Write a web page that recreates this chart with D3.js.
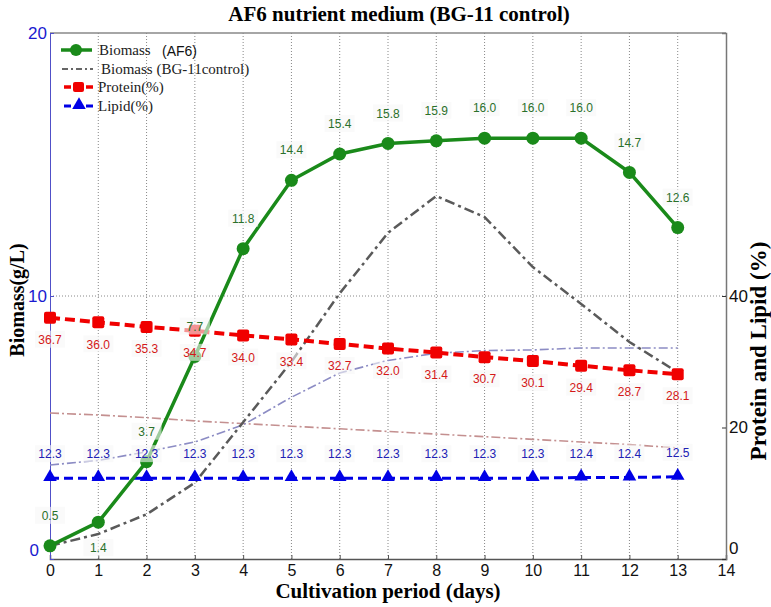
<!DOCTYPE html>
<html>
<head>
<meta charset="utf-8">
<script src="https://cdn.jsdelivr.net/npm/d3@7"></script>
<style>
  body { margin: 0; background: #fff; }
</style>
</head>
<body>
<div id="chart"></div>
<script>
// data
const days = [0, 1, 2, 3, 4, 5, 6, 7, 8, 9, 10, 11, 12, 13];
const biomassAF6 = [0.5, 1.4, 3.7, 7.7, 11.8, 14.4, 15.4, 15.8, 15.9, 16.0, 16.0, 16.0, 14.7, 12.6];
const biomassBG11 = [0.5, 0.95, 1.7, 2.9, 5.2, 7.5, 10.1, 12.4, 13.8, 13.0, 11.1, 9.7, 8.25, 7.1];
const protein = [36.7, 36.0, 35.3, 34.7, 34.0, 33.4, 32.7, 32.0, 31.4, 30.7, 30.1, 29.4, 28.7, 28.1];
const lipid = [12.3, 12.3, 12.3, 12.3, 12.3, 12.3, 12.3, 12.3, 12.3, 12.3, 12.3, 12.4, 12.4, 12.5];
// unlabeled control curves (right axis)
const ctrlA = [14.3, 15.0, 16.3, 17.8, 20.4, 24.6, 28.3, 30.2, 31.3, 31.7, 31.8, 32.1, 32.1, 32.1];
const ctrlB = [22.2, 21.9, 21.5, 21.0, 20.6, 20.2, 19.8, 19.4, 19.0, 18.6, 18.2, 17.8, 17.4, 16.9];
const xTicks = [0, 1, 2, 3, 4, 5, 6, 7, 8, 9, 10, 11, 12, 13, 14];
const leftTicks = [0, 10, 20];
const rightTicks = [0, 20, 40];

const W = 771, H = 607;
const margin = { top: 33, right: 45, bottom: 48, left: 50 };
const width = W - margin.left - margin.right;
const height = H - margin.top - margin.bottom;

const svg = d3.select("#chart").append("svg")
    .attr("width", W).attr("height", H);
const g = svg.append("g")
    .attr("transform", `translate(${margin.left},${margin.top})`);

const x = d3.scaleLinear().domain([0, 14]).range([0, width]);
const yL = d3.scaleLinear().domain([0, 20]).range([height, 0]);
const yR = d3.scaleLinear().domain([0, 80]).range([height, 0]);

// grid
g.append("g").selectAll("line")
    .data(xTicks.slice(1, -1))
    .enter().append("line")
    .attr("x1", d => x(d)).attr("x2", d => x(d))
    .attr("y1", 0).attr("y2", height)
    .attr("stroke", "#888").attr("stroke-width", 1)
    .attr("stroke-dasharray", "1,2");
g.append("line")
    .attr("x1", 0).attr("x2", width)
    .attr("y1", yL(10)).attr("y2", yL(10))
    .attr("stroke", "#888").attr("stroke-width", 1)
    .attr("stroke-dasharray", "1,2");

// box (top + right)
g.append("line").attr("x1", 0).attr("x2", width).attr("y1", 0).attr("y2", 0)
    .attr("stroke", "#888").attr("stroke-width", 1.5);

// axes
const xAxis = g.append("g")
    .attr("transform", `translate(0,${height})`)
    .call(d3.axisBottom(x).tickValues(xTicks).tickSize(-4).tickFormat(d3.format("d")).tickPadding(6));
xAxis.select(".domain").attr("stroke", "#555").attr("stroke-width", 1.5);
xAxis.selectAll(".tick line").attr("stroke", "#555");
xAxis.selectAll("text").attr("font-family", "Liberation Sans, Arial").attr("font-size", 16).attr("fill", "#111");

const lAxis = g.append("g")
    .call(d3.axisLeft(yL).tickValues(leftTicks).tickSize(-4).tickPadding(3));
lAxis.select(".domain").attr("stroke", "#5050c8").attr("stroke-width", 1);
lAxis.selectAll(".tick line").attr("stroke", "#5050c8");
lAxis.selectAll("text").attr("font-family", "Liberation Sans, Arial").attr("font-size", 17).attr("fill", "#1a1ad0");
lAxis.selectAll(".tick").filter(d => d === 0).select("text").attr("dy", "-0.2em").attr("dx", -8);

const rAxis = g.append("g")
    .attr("transform", `translate(${width},0)`)
    .call(d3.axisRight(yR).tickValues(rightTicks).tickSize(-4).tickPadding(3));
rAxis.select(".domain").attr("stroke", "#777").attr("stroke-width", 1.5);
rAxis.selectAll(".tick line").attr("stroke", "#333");
rAxis.selectAll("text").attr("font-family", "Liberation Sans, Arial").attr("font-size", 17).attr("fill", "#111");
rAxis.selectAll(".tick").filter(d => d === 0).select("text").attr("dy", "-0.3em");

// lines
const lineL = d3.line().x((d, i) => x(days[i])).y(d => yL(d));
const lineR = d3.line().x((d, i) => x(days[i])).y(d => yR(d));

g.append("path").datum(ctrlB).attr("d", lineR).attr("fill", "none")
    .attr("stroke", "#c49090").attr("stroke-width", 1.6).attr("stroke-dasharray", "9,3,2,3");
g.append("path").datum(ctrlA).attr("d", lineR).attr("fill", "none")
    .attr("stroke", "#8c8cc4").attr("stroke-width", 1.6).attr("stroke-dasharray", "9,3,2,3");
g.append("path").datum(biomassBG11).attr("d", lineL).attr("fill", "none")
    .attr("stroke", "#5a5a5a").attr("stroke-width", 2.5).attr("stroke-dasharray", "10,4,3,4");

g.append("path").datum(lipid).attr("d", lineR).attr("fill", "none")
    .attr("stroke", "#0000e6").attr("stroke-width", 3).attr("stroke-dasharray", "9,5");
g.append("path").datum(protein).attr("d", lineR).attr("fill", "none")
    .attr("stroke", "#f00000").attr("stroke-width", 4).attr("stroke-dasharray", "10,5");
g.append("path").datum(biomassAF6).attr("d", lineL).attr("fill", "none")
    .attr("stroke", "#1a8a1a").attr("stroke-width", 3.5);

// markers
const tri = d3.symbol().type(d3.symbolTriangle).size(80);
g.append("g").selectAll("path").data(lipid).enter().append("path")
    .attr("d", tri)
    .attr("transform", (d, i) => `translate(${x(days[i])},${yR(d) - 1})`)
    .attr("fill", "#0000e6");
g.append("g").selectAll("rect").data(protein).enter().append("rect")
    .attr("x", (d, i) => x(days[i]) - 6).attr("y", d => yR(d) - 6)
    .attr("width", 12).attr("height", 12).attr("rx", 2)
    .attr("fill", "#f00000");
g.append("g").selectAll("circle").data(biomassAF6).enter().append("circle")
    .attr("cx", (d, i) => x(days[i])).attr("cy", d => yL(d))
    .attr("r", 6.5).attr("fill", "#1a8a1a");

// value labels
function addLabels(data, yScale, dyFn, color) {
    const lg = g.append("g");
    data.forEach((d, i) => {
        const cx = x(days[i]);
        const cy = yScale(d) + dyFn(i);
        lg.append("rect")
            .attr("x", cx - 15).attr("y", cy - 9)
            .attr("width", 30).attr("height", 17)
            .attr("fill", "#f6f6f6").attr("opacity", 0.6);
        lg.append("text")
            .attr("x", cx).attr("y", cy)
            .attr("dy", "0.35em")
            .attr("text-anchor", "middle")
            .attr("font-family", "Liberation Sans, Arial")
            .attr("font-size", 12)
            .attr("fill", color)
            .text(d.toFixed(1));
    });
}
addLabels(protein, yR, () => 22, "#d41818");
addLabels(lipid, yR, () => -24, "#2020b4");
addLabels(biomassAF6, yL, i => (i === 1 ? 26 : -30), "#2a702a");

// legend
const legend = g.append("g").attr("transform", "translate(0,0)");
const legY = [17, 36, 54, 73];
legend.append("line").attr("x1", 11).attr("x2", 42).attr("y1", legY[0]).attr("y2", legY[0])
    .attr("stroke", "#1a8a1a").attr("stroke-width", 3.5);
legend.append("circle").attr("cx", 26).attr("cy", legY[0]).attr("r", 6).attr("fill", "#1a8a1a");
legend.append("line").attr("x1", 12).attr("x2", 43).attr("y1", legY[1]).attr("y2", legY[1])
    .attr("stroke", "#666").attr("stroke-width", 2).attr("stroke-dasharray", "6,3,2,3");
legend.append("line").attr("x1", 14).attr("x2", 43).attr("y1", legY[2]).attr("y2", legY[2])
    .attr("stroke", "#f00000").attr("stroke-width", 3.5).attr("stroke-dasharray", "7,4");
legend.append("rect").attr("x", 23).attr("y", legY[2] - 5).attr("width", 11).attr("height", 10)
    .attr("rx", 2).attr("fill", "#f00000");
legend.append("line").attr("x1", 14).attr("x2", 43).attr("y1", legY[3]).attr("y2", legY[3])
    .attr("stroke", "#0000e6").attr("stroke-width", 3).attr("stroke-dasharray", "7,4");
legend.append("path").attr("d", tri)
    .attr("transform", `translate(29,${legY[3] - 1})`).attr("fill", "#0000e6");

const legText = [["Biomass", 49], ["Biomass (BG-11control)", 51], ["Protein(%)", 48], ["Lipid(%)", 48]];
legText.forEach((t, i) => {
    legend.append("text")
        .attr("x", t[1]).attr("y", legY[i]).attr("dy", "0.32em")
        .attr("font-family", "Liberation Serif, Times New Roman")
        .attr("font-size", 15).attr("fill", "#222")
        .text(t[0]);
});
legend.append("text")
    .attr("x", 112).attr("y", legY[0] + 2).attr("dy", "0.32em")
    .attr("font-family", "Liberation Sans, Arial")
    .attr("font-size", 14).attr("fill", "#111")
    .text("(AF6)");

// titles
svg.append("text")
    .attr("x", 399).attr("y", 21)
    .attr("text-anchor", "middle")
    .attr("font-family", "Liberation Serif, Times New Roman")
    .attr("font-weight", "bold").attr("font-size", 21)
    .text("AF6 nutrient medium (BG-11 control)");
svg.append("text")
    .attr("x", 388).attr("y", 598)
    .attr("text-anchor", "middle")
    .attr("font-family", "Liberation Serif, Times New Roman")
    .attr("font-weight", "bold").attr("font-size", 21)
    .text("Cultivation period (days)");
svg.append("text")
    .attr("transform", "translate(24,300) rotate(-90)")
    .attr("text-anchor", "middle")
    .attr("font-family", "Liberation Serif, Times New Roman")
    .attr("font-weight", "bold").attr("font-size", 20)
    .text("Biomass(g/L)");
svg.append("text")
    .attr("transform", "translate(766,351) rotate(-90)")
    .attr("text-anchor", "middle")
    .attr("font-family", "Liberation Serif, Times New Roman")
    .attr("font-weight", "bold").attr("font-size", 23)
    .text("Protein and Lipid (%)");
</script>
</body>
</html>
